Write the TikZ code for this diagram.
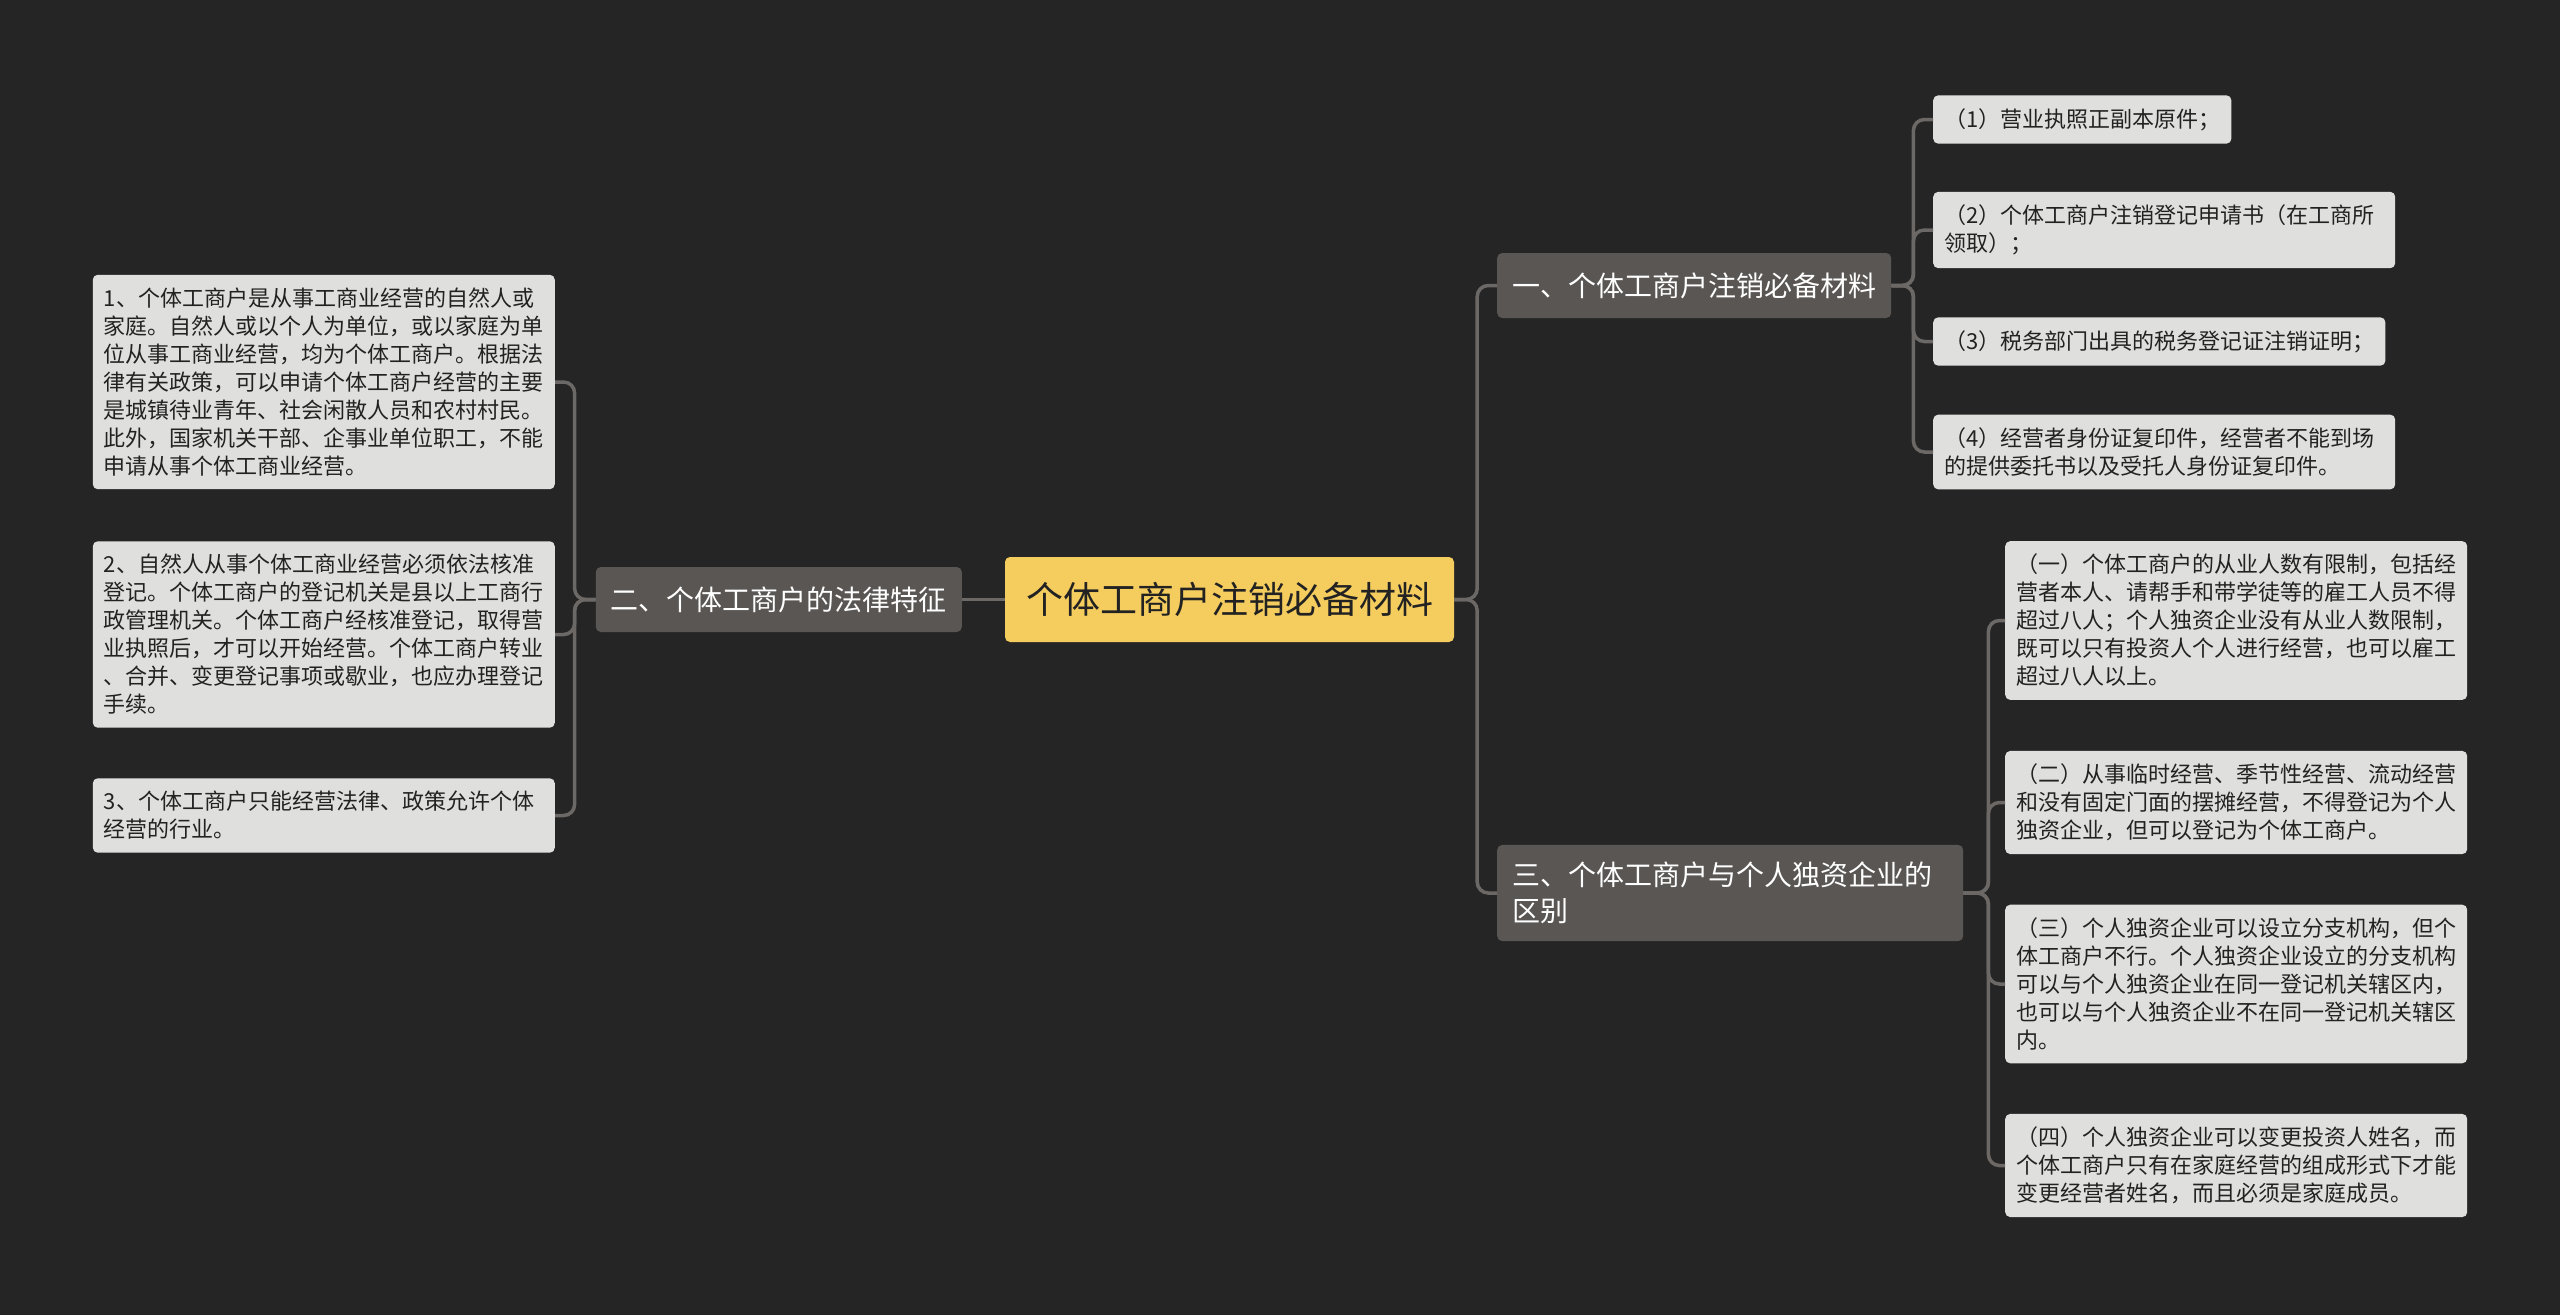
\documentclass[tikz,border=0pt]{standalone}
\usepackage{fontspec}
\setmainfont{Noto Sans CJK SC}
\definecolor{fundo}{HTML}{252525}
\definecolor{linha}{HTML}{6B6866}
\definecolor{amarelo}{HTML}{F5CD5F}
\definecolor{ramo}{HTML}{5A5654}
\definecolor{folha}{HTML}{DFDFDD}
\definecolor{escuro}{HTML}{222222}
\tikzset{
  topic/.style={fill=amarelo, rounded corners=5pt, text=escuro,
    font=\fontsize{37}{44}\selectfont, inner xsep=21pt, minimum height=85pt},
  branch/.style={fill=ramo, rounded corners=5pt, text=white, align=left,
    font=\fontsize{28}{36}\selectfont, inner xsep=15pt, inner ysep=17pt, minimum height=65pt},
  leaf/.style={fill=folha, rounded corners=5pt, text=escuro, align=left,
    font=\fontsize{22}{28}\selectfont, inner xsep=11pt, inner ysep=13pt},
  wide/.style={text width=440pt},
  link/.style={draw=linha, line width=3.5pt, rounded corners=11pt}
}
\begin{document}
\begin{tikzpicture}[x=1pt, y=-1pt]
\fill[fundo] (0,0) rectangle (2560,1315);
\useasboundingbox (0,0) rectangle (2560,1315);
% tema central
\node[topic] (topic) at (1229.5,599.5) {个体工商户注销必备材料};
\node[branch, anchor=east] (b2) at (962,599.5) {二、个体工商户的法律特征};
\node[branch, anchor=west] (b1) at (1497,285.5) {一、个体工商户注销必备材料};
\node[branch, anchor=west, text width=436pt] (b3) at (1497,893) {三、个体工商户与个人独资企业的\\区别};
% ramo esquerdo
\node[leaf, wide, anchor=east] (l1) at (555,382) {1、个体工商户是从事工商业经营的自然人或\\家庭。自然人或以个人为单位，或以家庭为单\\位从事工商业经营，均为个体工商户。根据法\\律有关政策，可以申请个体工商户经营的主要\\是城镇待业青年、社会闲散人员和农村村民。\\此外，国家机关干部、企事业单位职工，不能\\申请从事个体工商业经营。};
\node[leaf, wide, anchor=east] (l2) at (555,634.5) {2、自然人从事个体工商业经营必须依法核准\\登记。个体工商户的登记机关是县以上工商行\\政管理机关。个体工商户经核准登记，取得营\\业执照后，才可以开始经营。个体工商户转业\\、合并、变更登记事项或歇业，也应办理登记\\手续。};
\node[leaf, wide, anchor=east] (l3) at (555,815.5) {3、个体工商户只能经营法律、政策允许个体\\经营的行业。};
% ramo 1
\node[leaf, anchor=west] (r1a) at (1933,119.5) {（1）营业执照正副本原件；};
\node[leaf, wide, anchor=west] (r1b) at (1933,230) {（2）个体工商户注销登记申请书（在工商所\\领取）；};
\node[leaf, anchor=west] (r1c) at (1933,341.5) {（3）税务部门出具的税务登记证注销证明；};
\node[leaf, wide, anchor=west] (r1d) at (1933,452) {（4）经营者身份证复印件，经营者不能到场\\的提供委托书以及受托人身份证复印件。};
% ramo 3
\node[leaf, wide, anchor=west] (r3a) at (2005,620.5) {（一）个体工商户的从业人数有限制，包括经\\营者本人、请帮手和带学徒等的雇工人员不得\\超过八人；个人独资企业没有从业人数限制，\\既可以只有投资人个人进行经营，也可以雇工\\超过八人以上。};
\node[leaf, wide, anchor=west] (r3b) at (2005,802.5) {（二）从事临时经营、季节性经营、流动经营\\和没有固定门面的摆摊经营，不得登记为个人\\独资企业，但可以登记为个体工商户。};
\node[leaf, wide, anchor=west] (r3c) at (2005,984) {（三）个人独资企业可以设立分支机构，但个\\体工商户不行。个人独资企业设立的分支机构\\可以与个人独资企业在同一登记机关辖区内，\\也可以与个人独资企业不在同一登记机关辖区\\内。};
\node[leaf, wide, anchor=west] (r3d) at (2005,1165.5) {（四）个人独资企业可以变更投资人姓名，而\\个体工商户只有在家庭经营的组成形式下才能\\变更经营者姓名，而且必须是家庭成员。};
% ligacoes
\draw[link] (topic.west) -- (b2.east);
\foreach \b in {b1,b3}
  \draw[link] (topic.east) -- ++(23,0) |- (\b.west);
\foreach \f in {l1,l2,l3}
  \draw[link] (b2.west) -- ++(-21,0) |- (\f.east);
\foreach \f in {r1a,r1b,r1c,r1d}
  \draw[link] (b1.east) -- ++(22,0) |- (\f.west);
\foreach \f in {r3a,r3b,r3c,r3d}
  \draw[link] (b3.east) -- ++(25,0) |- (\f.west);
\end{tikzpicture}
\end{document}
